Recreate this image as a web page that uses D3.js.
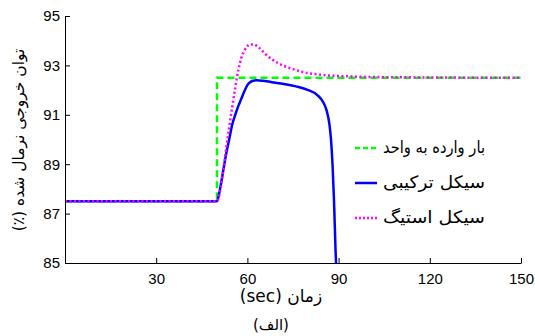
<!DOCTYPE html>
<html>
<head>
<meta charset="utf-8">
<script src="https://cdn.jsdelivr.net/npm/d3@7"></script>
<style>
  body { margin: 0; background: #fff; }
  svg { display: block; }
  .tick text { font-family: "Liberation Sans", Arial, sans-serif; font-size: 15px; }
  .fa { font-family: "DejaVu Sans", sans-serif; direction: rtl; unicode-bidi: embed; }
</style>
</head>
<body>
<svg width="535" height="336"></svg>
<script>
// step input (green)
var stepTime = [0, 50, 50, 150];
var stepVal = [87.5, 87.5, 92.5, 92.5];

// combined cycle (blue)
var comboTime = [0, 50, 51, 52, 53, 54, 55, 56, 57, 58, 59, 60, 61, 62, 63, 65, 68, 72, 76, 80, 83, 85, 86, 87, 87.5, 88, 88.5, 89, 89.5];
var comboVal = [87.5, 87.5, 88.0, 88.7, 89.4, 90.0, 90.6, 91.0, 91.35, 91.65, 91.95, 92.2, 92.33, 92.38, 92.4, 92.38, 92.32, 92.25, 92.15, 92.0, 91.8, 91.5, 91.2, 90.6, 90.0, 89.0, 87.5, 85.5, 84.0];

// steam cycle (magenta)
var steamTime = [0, 50, 51, 52, 53, 54, 55, 56, 57, 58, 59, 60, 61, 62, 63, 64, 66, 68, 70, 72, 75, 78, 82, 86, 90, 95, 100, 110, 120, 150];
var steamVal = [87.5, 87.5, 87.9, 88.7, 89.6, 90.5, 91.3, 92.1, 92.8, 93.3, 93.6, 93.78, 93.85, 93.85, 93.8, 93.7, 93.45, 93.25, 93.1, 92.98, 92.85, 92.74, 92.65, 92.6, 92.57, 92.55, 92.53, 92.52, 92.51, 92.5];

var xTicks = [30, 60, 90, 120, 150];
var yTicks = [85, 87, 89, 91, 93, 95];
var legendNames = ["بار وارده به واحد", "سیکل ترکیبی", "سیکل استیگ"];

var svg = d3.select("svg");
var mLeft = 65, mRight = 521, mTop = 16, mBottom = 263;

var x = d3.scaleLinear().domain([0, 150]).range([mLeft, mRight]);
var y = d3.scaleLinear().domain([85, 95]).range([mBottom, mTop]);

svg.append("defs").append("clipPath").attr("id", "clip")
  .append("rect").attr("x", mLeft).attr("y", mTop).attr("width", mRight - mLeft + 2).attr("height", mBottom - mTop);

function pts(ts, vs) { return ts.map(function(t, i) { return [t, vs[i]]; }); }

var line = d3.line().x(function(d) { return x(d[0]); }).y(function(d) { return y(d[1]); });
var smooth = d3.line().x(function(d) { return x(d[0]); }).y(function(d) { return y(d[1]); }).curve(d3.curveMonotoneX);

var g = svg.append("g").attr("clip-path", "url(#clip)");

g.append("path").attr("d", line(pts(stepTime, stepVal)))
  .attr("fill", "none").attr("stroke", "#00ff00").attr("stroke-width", 2.5).attr("stroke-dasharray", "7,4");
g.append("path").attr("d", smooth(pts(comboTime, comboVal)))
  .attr("fill", "none").attr("stroke", "#0000ff").attr("stroke-width", 2.5);
g.append("path").attr("d", smooth(pts(steamTime, steamVal)))
  .attr("fill", "none").attr("stroke", "#ff00ff").attr("stroke-width", 2.5).attr("stroke-dasharray", "2,2.5");

// axes (ticks point inwards)
var xAxis = svg.append("g").attr("transform", "translate(0," + mBottom + ")")
  .call(d3.axisBottom(x).tickValues(xTicks).tickSizeInner(-5).tickSizeOuter(0).tickPadding(10));
var yAxis = svg.append("g").attr("transform", "translate(" + mLeft + ",0)")
  .call(d3.axisLeft(y).tickValues(yTicks).tickSizeInner(-5).tickSizeOuter(0).tickPadding(5));
[xAxis, yAxis].forEach(function(a) {
  a.select(".domain").attr("stroke", "#000");
  a.selectAll(".tick line").attr("stroke", "#000");
  a.selectAll(".tick text").attr("fill", "#000");
});

// legend
var legColors = ["#00ff00", "#0000ff", "#ff00ff"];
var legDash = ["5,3", null, "2,2"];
var legY = [148, 183, 218];
legendNames.forEach(function(name, i) {
  svg.append("line").attr("x1", 355).attr("x2", 377).attr("y1", legY[i]).attr("y2", legY[i])
    .attr("stroke", legColors[i]).attr("stroke-width", 2.5).attr("stroke-dasharray", legDash[i]);
  svg.append("text").attr("class", "fa").attr("x", 485).attr("y", legY[i] + 5)
    .attr("text-anchor", "start").attr("font-size", 17)
    .attr("textLength", 102).attr("lengthAdjust", "spacingAndGlyphs").text(name);
});

// axis labels
svg.append("text").attr("class", "fa").attr("font-size", 15.5)
  .attr("transform", "translate(24,140) rotate(-90)").attr("text-anchor", "middle")
  .text("توان خروجی نرمال شده (٪)");
svg.append("text").attr("class", "fa").attr("font-size", 17)
  .attr("x", 281).attr("y", 302).attr("text-anchor", "middle").text("زمان (sec)");
svg.append("text").attr("class", "fa").attr("font-size", 15)
  .attr("x", 271).attr("y", 330).attr("text-anchor", "middle").text("(الف)");
</script>
</body>
</html>
